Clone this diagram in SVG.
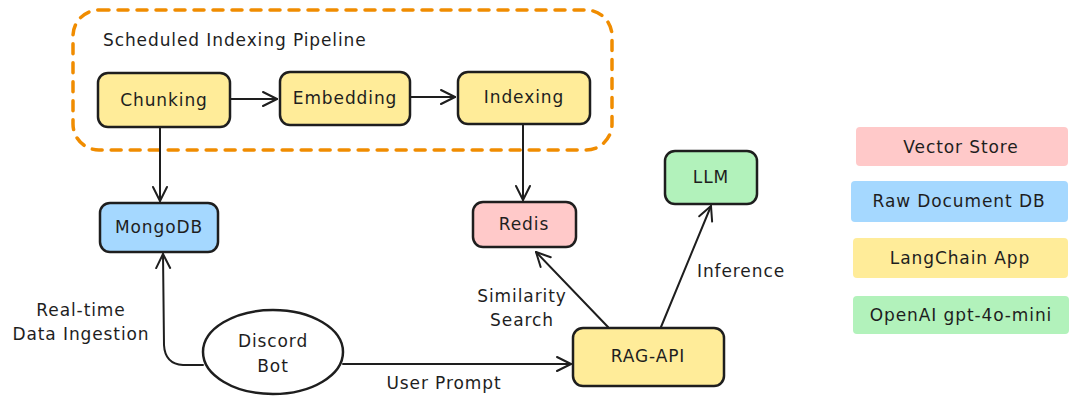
<svg xmlns="http://www.w3.org/2000/svg" width="1080" height="407" viewBox="0 0 1080 407">
<style>
.t{font-family:"DejaVu Sans","Liberation Sans",sans-serif;font-size:17px;letter-spacing:0.9px;fill:#1e1e1e;text-anchor:middle;dominant-baseline:central}
.box{stroke:#1e1e1e;stroke-width:2.5}
.y{fill:#ffec99}.b{fill:#a5d8ff}.p{fill:#ffc9c9}.g{fill:#b2f2bb}
.c{fill:none;stroke:#1e1e1e;stroke-width:2;stroke-linecap:round;stroke-linejoin:round}
</style>
<defs>
<marker id="ah" viewBox="0 0 20 20" refX="18" refY="10" markerWidth="20" markerHeight="20" markerUnits="userSpaceOnUse" orient="auto">
<path d="M4 3 L18 10 L4 17" fill="none" stroke="#1e1e1e" stroke-width="2" stroke-linecap="round" stroke-linejoin="round"/>
</marker>
</defs>
<rect width="1080" height="407" fill="#ffffff"/>
<g id="pipeline">
<rect x="73" y="10" width="539" height="140" rx="26" fill="none" stroke="#f08c00" stroke-width="3.5" stroke-dasharray="10 9" stroke-linecap="round"/>
<text class="t" x="103" y="40" style="text-anchor:start">Scheduled Indexing Pipeline</text>
</g>
<g id="chunking"><rect class="box y" x="98" y="73" width="132" height="54" rx="10"/><text class="t" x="164" y="100">Chunking</text></g>
<g id="embedding"><rect class="box y" x="280" y="72" width="130" height="53" rx="10"/><text class="t" x="345" y="98">Embedding</text></g>
<g id="indexing"><rect class="box y" x="458" y="72" width="132" height="52" rx="10"/><text class="t" x="524" y="97">Indexing</text></g>
<g id="mongodb"><rect class="box b" x="100" y="203" width="118" height="49" rx="10"/><text class="t" x="159" y="227">MongoDB</text></g>
<g id="redis"><rect class="box p" x="473" y="202" width="103" height="45" rx="10"/><text class="t" x="524" y="224">Redis</text></g>
<g id="llm"><rect class="box g" x="665" y="151" width="92" height="53" rx="10"/><text class="t" x="711" y="177">LLM</text></g>
<g id="ragapi"><rect class="box y" x="573" y="328" width="151" height="58" rx="10"/><text class="t" x="648" y="356">RAG-API</text></g>
<g id="discord"><ellipse cx="273" cy="352" rx="70" ry="42" fill="#ffffff" stroke="#1e1e1e" stroke-width="2.5"/><text class="t" x="273" y="341">Discord</text><text class="t" x="273" y="366">Bot</text></g>
<g id="connectors">
<path class="c" d="M230 99 L277 99" marker-end="url(#ah)"/>
<path class="c" d="M410 97 L455 97" marker-end="url(#ah)"/>
<path class="c" d="M160 127 L160 201" marker-end="url(#ah)"/>
<path class="c" d="M523 124 L523 200" marker-end="url(#ah)"/>
<path class="c" d="M203 365 L183 365 Q165 364 164 345 L163 254" marker-end="url(#ah)"/>
<path class="c" d="M343 364 L571 364" marker-end="url(#ah)"/>
<path class="c" d="M608 327 L536 252" marker-end="url(#ah)"/>
<path class="c" d="M661 327 L711 206" marker-end="url(#ah)"/>
<text class="t" x="81" y="310">Real-time</text>
<text class="t" x="81" y="334">Data Ingestion</text>
<text class="t" x="522" y="296">Similarity</text>
<text class="t" x="522" y="320">Search</text>
<text class="t" x="741" y="271">Inference</text>
<text class="t" x="444" y="383">User Prompt</text>
</g>
<g id="legend">
<g id="legend-vector"><rect class="p" x="856" y="127" width="212" height="39" rx="4"/><text class="t" x="961" y="147">Vector Store</text></g>
<g id="legend-raw"><rect class="b" x="851" y="181" width="217" height="41" rx="4"/><text class="t" x="959" y="201">Raw Document DB</text></g>
<g id="legend-langchain"><rect class="y" x="853" y="238" width="215" height="40" rx="4"/><text class="t" x="960" y="258">LangChain App</text></g>
<g id="legend-openai"><rect class="g" x="853" y="296" width="216" height="38" rx="4"/><text class="t" x="961" y="315">OpenAI gpt-4o-mini</text></g>
</g>
</svg>
